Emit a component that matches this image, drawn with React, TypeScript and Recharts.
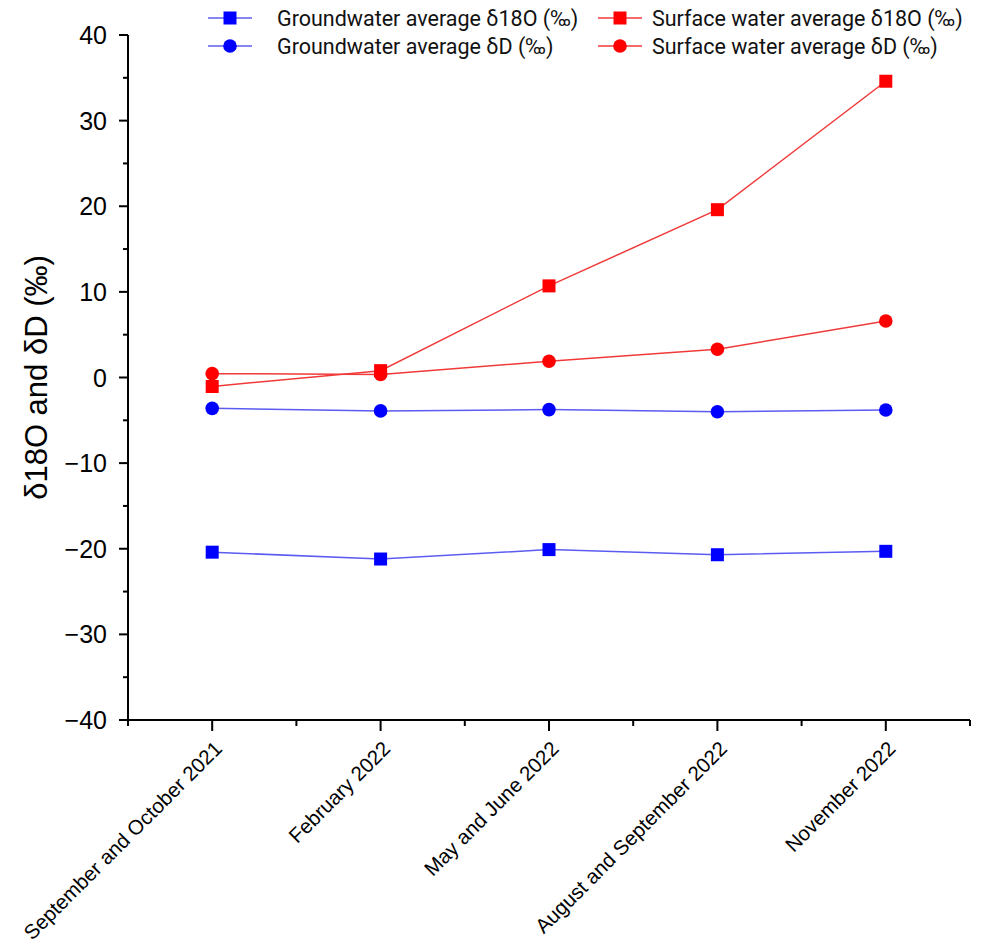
import { LineChart, Line, XAxis, YAxis } from 'recharts';

const periods = [
  'September and October 2021',
  'February 2022',
  'May and June 2022',
  'August and September 2022',
  'November 2022',
];

const gwD18O = [-20.4, -21.2, -20.1, -20.7, -20.3];
const gwDD = [-3.6, -3.9, -3.75, -4.0, -3.8];
const swD18O = [-1.05, 0.8, 10.7, 19.6, 34.6];
const swDD = [0.45, 0.35, 1.9, 3.3, 6.6];

const yTicks = [-40, -35, -30, -25, -20, -15, -10, -5, 0, 5, 10, 15, 20, 25, 30, 35, 40];
const xTicks = [-0.5, 0, 0.5, 1, 1.5, 2, 2.5, 3, 3.5, 4, 4.5];

const BLUE = '#0000ff';
const BLUE_LINE = '#5c5cf2';
const RED = '#ff0000';
const RED_LINE = '#f03a3a';

const data = periods.map((p, i) => ({
  x: i,
  period: p,
  gwD18O: gwD18O[i],
  gwDD: gwDD[i],
  swD18O: swD18O[i],
  swDD: swDD[i],
}));

const series = [
  { key: 'gwD18O', name: 'Groundwater average δ18O (‰)', color: BLUE, line: BLUE_LINE, shape: 'square' },
  { key: 'gwDD', name: 'Groundwater average δD (‰)', color: BLUE, line: BLUE_LINE, shape: 'circle' },
  { key: 'swD18O', name: 'Surface water average δ18O (‰)', color: RED, line: RED_LINE, shape: 'square' },
  { key: 'swDD', name: 'Surface water average δD (‰)', color: RED, line: RED_LINE, shape: 'circle' },
];

const font = '"Liberation Sans", Arial, sans-serif';

const makeDot = (shape: string, color: string) => (props: any) => {
  const { cx, cy, index } = props;
  if (cx == null || cy == null) return <g key={index} />;
  if (shape === 'square') {
    return <rect key={index} x={cx - 6.5} y={cy - 6.5} width={13} height={13} fill={color} />;
  }
  return <circle key={index} cx={cx} cy={cy} r={6.8} fill={color} />;
};

const YTick = (props: any) => {
  const { x, y, payload } = props;
  const v = payload.value;
  const major = v % 10 === 0;
  return (
    <g>
      <line x1={x - (major ? 9 : 5)} y1={y} x2={x} y2={y} stroke="#000" strokeWidth={2} />
      {major && (
        <text x={x - 21} y={y} dy="0.36em" textAnchor="end" fontSize={25} fontFamily={font} fill="#000">
          {v < 0 ? '\u2212' + Math.abs(v) : v}
        </text>
      )}
    </g>
  );
};

const XTick = (props: any) => {
  const { x, y, payload } = props;
  const v = payload.value;
  const major = Number.isInteger(v);
  return (
    <g>
      <line x1={x} y1={y} x2={x} y2={y + (major ? 11 : 6)} stroke="#000" strokeWidth={2} />
      {major && (
        <text
          x={x + 11}
          y={y + 30}
          textAnchor="end"
          fontSize={20.5}
          fontFamily={font}
          fill="#000"
          transform={`rotate(-45, ${x + 11}, ${y + 30})`}
        >
          {periods[v]}
        </text>
      )}
    </g>
  );
};

const LegendMarker = ({ shape, color, line }: { shape: string; color: string; line: string }) => (
  <svg width={44} height={20} style={{ display: 'block' }}>
    <line x1={0} y1={10} x2={44} y2={10} stroke={line} strokeWidth={1.5} />
    {shape === 'square' ? (
      <rect x={15.5} y={3.5} width={13} height={13} fill={color} />
    ) : (
      <circle cx={22} cy={10} r={6.8} fill={color} />
    )}
  </svg>
);

const LegendBox = () => {
  const cols = [
    { left: 208, gap: 25, items: [series[0], series[1]] },
    { left: 598, gap: 10, items: [series[2], series[3]] },
  ];
  return (
    <div style={{ position: 'absolute', left: 0, top: 0, width: 992, height: 60, pointerEvents: 'none' }}>
      {cols.map((c, ci) => (
        <div key={ci} style={{ position: 'absolute', left: c.left, top: 4 }}>
          {c.items.map((s) => (
            <div key={s.key} style={{ display: 'flex', alignItems: 'center', height: 28 }}>
              <LegendMarker shape={s.shape} color={s.color} line={s.line} />
              <span
                style={{
                  marginLeft: c.gap,
                  fontFamily: 'Roboto, sans-serif',
                  fontSize: 21.5,
                  color: '#111',
                  whiteSpace: 'nowrap',
                }}
              >
                {s.name}
              </span>
            </div>
          ))}
        </div>
      ))}
    </div>
  );
};

export default function App() {
  return (
    <div style={{ position: 'absolute', left: 0, top: 0, width: 992, height: 950, background: '#fff' }}>
      <LineChart width={992} height={950} data={data} margin={{ top: 35, right: 22, left: 0, bottom: 0 }}>
        <XAxis
          dataKey="x"
          type="number"
          domain={[-0.5, 4.5]}
          ticks={xTicks}
          interval={0}
          tickSize={0}
          tickMargin={0}
          tickLine={false}
          height={230}
          axisLine={{ stroke: '#000', strokeWidth: 2 }}
          tick={<XTick />}
        />
        <YAxis
          type="number"
          domain={[-40, 40]}
          ticks={yTicks}
          interval={0}
          width={128}
          tickSize={0}
          tickMargin={0}
          tickLine={false}
          axisLine={{ stroke: '#000', strokeWidth: 2 }}
          tick={<YTick />}
          label={{
            content: (p: any) => {
              const vb = p.viewBox || {};
              const cy = (vb.y ?? 35) + (vb.height ?? 685) / 2;
              return (
                <text
                  x={47}
                  y={cy}
                  textAnchor="middle"
                  fontSize={31}
                  fontFamily={font}
                  fill="#000"
                  transform={`rotate(-90, 47, ${cy})`}
                >
                  δ18O and δD (‰)
                </text>
              );
            },
          }}
        />
        {series.map((s) => (
          <Line
            key={s.key}
            dataKey={s.key}
            name={s.name}
            stroke={s.line}
            strokeWidth={1.5}
            dot={makeDot(s.shape, s.color)}
            activeDot={false}
            isAnimationActive={false}
          />
        ))}
      </LineChart>
      <LegendBox />
    </div>
  );
}
